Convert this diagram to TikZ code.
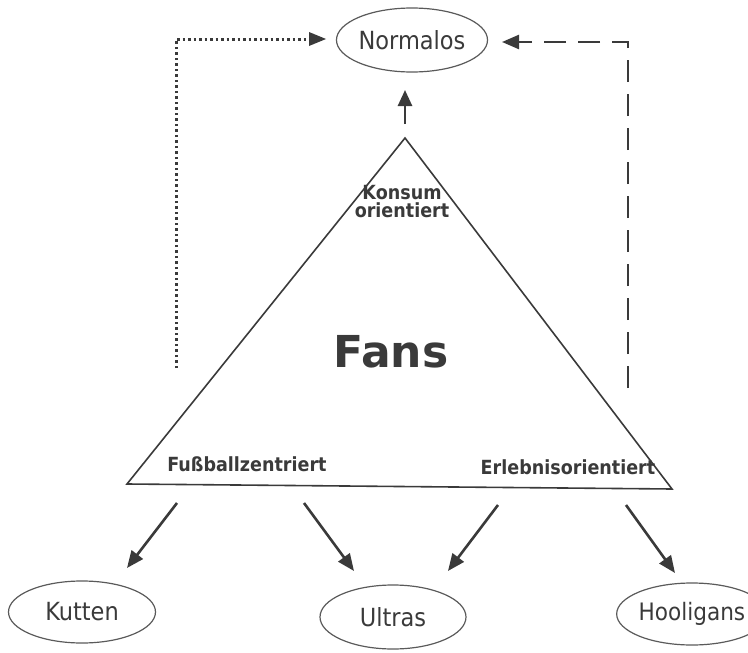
\documentclass[tikz,border=0pt]{standalone}
\usepackage{fontspec}
\setmainfont{DejaVu Sans}
\newfontfamily\condbold{DejaVu Sans Condensed Bold}
\newfontfamily\condreg{DejaVu Sans Condensed}
\usetikzlibrary{shapes.geometric,arrows.meta}
\definecolor{ink}{HTML}{3A3A3A}
\definecolor{rim}{HTML}{5A5A5A}
\tikzset{
  oval/.style={ellipse,draw=rim,line width=1.2pt,inner sep=0pt,text=ink,font=\condreg\fontsize{25}{27}\selectfont},
  tri/.style={draw=ink,line width=1.6pt,line join=miter},
  arr/.style={draw=ink,line width=2.6pt,-{Triangle[length=17pt,width=14pt]}},
  lab/.style={text=ink,font=\condbold\fontsize{19.5}{21}\selectfont,align=center,inner sep=0pt},
  dots/.style={draw=ink,line width=3pt,dash pattern=on 2.5pt off 3pt},
  dash2/.style={draw=ink,line width=2.4pt,dash pattern=on 22pt off 12pt}
}
\begin{document}
\begin{tikzpicture}[x=1pt,y=-1pt]
\useasboundingbox (0,0) rectangle (748,653);
% nodes
\node[oval,minimum width=145pt,minimum height=64pt] (norm) at (412,40) {Normalos};
\node[oval,minimum width=147pt,minimum height=62pt] (kut) at (82,612) {Kutten};
\node[oval,minimum width=146pt,minimum height=64pt] (ult) at (393,617) {Ultras};
\node[oval,minimum width=126pt,minimum height=62pt,font=\condreg\fontsize{24}{26}\selectfont] (hoo) at (692,614) {Hooligans};
% triangle
\coordinate (A) at (405,138);
\coordinate (B) at (127,484);
\coordinate (C) at (672,489);
\draw[tri] (A) -- (B) -- (C) -- cycle;
\node[lab] (kons) at (402,202) {Konsum\\[-3pt]orientiert};
\node[text=ink,font=\bfseries\fontsize{44}{48}\selectfont,inner sep=0pt] (fans) at (391,352) {Fans};
\node[lab] (fuss) at (247,464) {Fußballzentriert};
\node[lab] (erl) at (568,467) {Erlebnisorientiert};
% up arrow
\coordinate (up0) at (405,124);
\coordinate (up1) at (405,90);
\draw[arr,-{Triangle[length=16pt,width=14pt]}] (up0) -- (up1);
% dotted connector
\coordinate (d0) at (176,368);
\coordinate (d1) at (176,39);
\coordinate (d2) at (309,39);
\coordinate (d3) at (326,39);
\draw[dots] (d0) -- (d1) -- (d2);
\fill[ink] (d3) -- ++(-17,-7) -- ++(0,14) -- cycle;
% dashed connector
\coordinate (e0) at (628,388);
\coordinate (e1) at (628,42);
\coordinate (e2) at (502,42);
\draw[dash2,-{Triangle[length=17pt,width=14pt]}] (e0) -- (e1) -- (e2);
% bottom arrows
\coordinate (b1s) at (177,503);
\coordinate (b1e) at (127,568);
\coordinate (b2s) at (304,503);
\coordinate (b2e) at (354,571);
\coordinate (b3s) at (498,505);
\coordinate (b3e) at (448,571);
\coordinate (b4s) at (626,505);
\coordinate (b4e) at (675,573);
\draw[arr] (b1s) -- (b1e);
\draw[arr] (b2s) -- (b2e);
\draw[arr] (b3s) -- (b3e);
\draw[arr] (b4s) -- (b4e);
\end{tikzpicture}
\end{document}
